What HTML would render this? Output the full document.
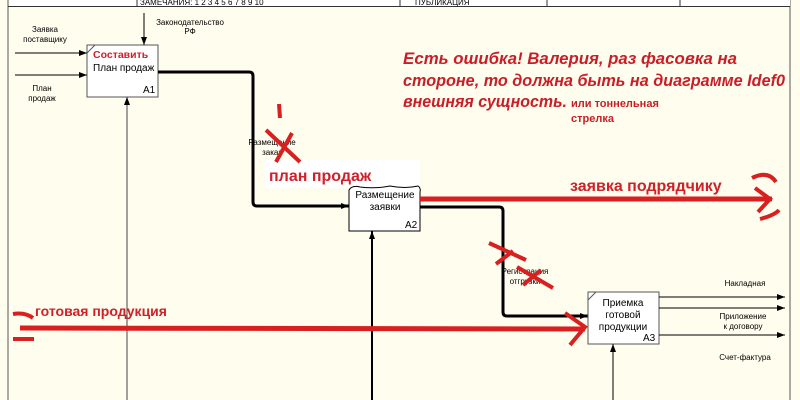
<!DOCTYPE html>
<html><head><meta charset="utf-8"><style>
html,body{margin:0;padding:0;width:800px;height:400px;overflow:hidden;background:#fffdee}
svg{display:block}
text{font-family:"Liberation Sans","DejaVu Sans",sans-serif}
</style></head><body>
<svg width="800" height="400" viewBox="0 0 800 400" xmlns="http://www.w3.org/2000/svg">
<defs>
<marker id="ah" markerWidth="8" markerHeight="6" refX="8" refY="3" orient="auto" markerUnits="userSpaceOnUse"><path d="M0,0 L8,3 L0,6 Z" fill="#000"/></marker>
</defs>
<rect width="800" height="400" fill="#fffdee"/>
<line x1="8" y1="0" x2="8" y2="400" stroke="#555" stroke-width="1"/>
<line x1="790" y1="0" x2="790" y2="400" stroke="#555" stroke-width="1"/>
<line x1="8" y1="6.5" x2="790" y2="6.5" stroke="#333" stroke-width="1"/>
<rect x="9" y="0" width="781" height="6" fill="#fff"/>
<line x1="137" y1="0" x2="137" y2="6" stroke="#333"/>
<line x1="547" y1="0" x2="547" y2="6" stroke="#333"/>
<line x1="680" y1="0" x2="680" y2="6" stroke="#333"/>
<line x1="400" y1="0" x2="400" y2="6" stroke="#333"/>
<text x="140" y="5" font-size="8">ЗАМЕЧАНИЯ:  1 2 3 4 5 6 7 8 9 10</text>
<text x="415" y="5" font-size="8">ПУБЛИКАЦИЯ</text>

<rect x="87" y="45" width="71" height="52" fill="#fff" stroke="#555"/>
<line x1="87" y1="53" x2="95" y2="45" stroke="#555"/>
<text x="93" y="58" font-size="10.5" font-weight="bold" fill="#d0202a">Составить</text>
<text x="93" y="71" font-size="10">План продаж</text>
<text x="143" y="93" font-size="10">A1</text>
<line x1="15" y1="53" x2="87" y2="53" stroke="#000" marker-end="url(#ah)"/>
<line x1="15" y1="75" x2="87" y2="75" stroke="#000" marker-end="url(#ah)"/>
<text x="45" y="32" font-size="8" text-anchor="middle">Заявка</text>
<text x="45" y="42" font-size="8" text-anchor="middle">поставщику</text>
<text x="42" y="91" font-size="8" text-anchor="middle">План</text>
<text x="42" y="101" font-size="8" text-anchor="middle">продаж</text>
<line x1="144" y1="13" x2="144" y2="45" stroke="#000" marker-end="url(#ah)"/>
<text x="190" y="25" font-size="8" text-anchor="middle">Законодательство</text>
<text x="190" y="34" font-size="8" text-anchor="middle">РФ</text>
<line x1="127" y1="400" x2="127" y2="97" stroke="#444" marker-end="url(#ah)"/>

<path d="M158,72 H249 Q253,72 253,76 V202 Q253,206 257,206 H349" fill="none" stroke="#000" stroke-width="3"/>
<path d="M341,203 L349,206 L341,209 Z"/>
<text x="272" y="145" font-size="8" text-anchor="middle">Размещение</text>
<text x="272" y="155" font-size="8" text-anchor="middle">заказ</text>
<rect x="265" y="160" width="155" height="28" fill="#fff"/>
<text x="269" y="181" font-size="16" font-weight="bold" fill="#d0202a">план продаж</text>
<path d="M266,130 L300,162 M292,133 L276,162" stroke="#d82020" stroke-width="4"/>
<path d="M279,104 L280,118" stroke="#d82020" stroke-width="4"/>

<path d="M349,190 Q352,185 360,187 Q375,189 390,186 Q405,189 418,186 Q421,188 420,192 V231 H349 Z" fill="#fff" stroke="#000"/>
<text x="385" y="198" font-size="10" text-anchor="middle">Размещение</text>
<text x="385" y="210" font-size="10" text-anchor="middle">заявки</text>
<text x="405" y="228" font-size="10">A2</text>
<line x1="372" y1="400" x2="372" y2="231" stroke="#000" stroke-width="2" marker-end="url(#ah)"/>

<path d="M420,207 H499 Q503,207 503,211 V312 Q503,316 507,316 H588" fill="none" stroke="#000" stroke-width="3"/>
<path d="M580,313 L588,316 L580,319 Z"/>
<text x="525" y="274" font-size="8" text-anchor="middle">Регистрация</text>
<text x="525" y="284" font-size="8" text-anchor="middle">отгрузки</text>
<path d="M489,243 L526,260 M513,251 L496,264 M517,267 L553,288 M541,270 L523,285" stroke="#d82020" stroke-width="4"/>

<line x1="420" y1="199" x2="772" y2="199" stroke="#d82020" stroke-width="5"/>
<path d="M755,188 L770,199 L758,212" fill="none" stroke="#d82020" stroke-width="4"/>
<path d="M752,178 Q768,170 776,182 M760,219 Q775,215 779,210" fill="none" stroke="#d82020" stroke-width="4"/>
<text x="570" y="191" font-size="16" font-weight="bold" fill="#d0202a">заявка подрядчику</text>

<text x="403" y="64" font-size="16.5" font-weight="bold" font-style="italic" fill="#c81e28" textLength="334" lengthAdjust="spacingAndGlyphs">Есть ошибка! Валерия, раз фасовка на</text>
<text x="403" y="86" font-size="16.5" font-weight="bold" font-style="italic" fill="#c81e28" textLength="382" lengthAdjust="spacingAndGlyphs">стороне, то должна быть на диаграмме Idef0</text>
<text x="403" y="107" font-size="16.5" font-weight="bold" font-style="italic" fill="#c81e28" textLength="164" lengthAdjust="spacingAndGlyphs">внешняя сущность.</text>
<text x="571" y="107" font-size="11" font-weight="bold" fill="#c81e28">или тоннельная</text>
<text x="571" y="122" font-size="11" font-weight="bold" fill="#c81e28">стрелка</text>

<rect x="588" y="292" width="71" height="52" fill="#fff" stroke="#555"/>
<line x1="588" y1="300" x2="596" y2="292" stroke="#555"/>
<text x="623" y="306" font-size="10" text-anchor="middle">Приемка</text>
<text x="623" y="318" font-size="10" text-anchor="middle">готовой</text>
<text x="623" y="330" font-size="10" text-anchor="middle">продукции</text>
<text x="643" y="341" font-size="10">A3</text>
<line x1="613" y1="400" x2="613" y2="344" stroke="#000" marker-end="url(#ah)"/>
<line x1="659" y1="297" x2="785" y2="297" stroke="#000" marker-end="url(#ah)"/>
<line x1="659" y1="308" x2="785" y2="308" stroke="#000" marker-end="url(#ah)"/>
<line x1="659" y1="335" x2="785" y2="335" stroke="#000" marker-end="url(#ah)"/>
<text x="745" y="286" font-size="8" text-anchor="middle">Накладная</text>
<text x="743" y="319" font-size="8" text-anchor="middle">Приложение</text>
<text x="743" y="329" font-size="8" text-anchor="middle">к договору</text>
<text x="745" y="360" font-size="8" text-anchor="middle">Счет-фактура</text>

<line x1="20" y1="328" x2="585" y2="329" stroke="#d82020" stroke-width="5"/>
<path d="M565,313 L585,327 L570,345" fill="none" stroke="#d82020" stroke-width="4"/>
<path d="M13,314 Q25,312 33,318 M13,339 L34,339" fill="none" stroke="#d82020" stroke-width="4"/>
<text x="35" y="316" font-size="14" font-weight="bold" fill="#d0202a">готовая продукция</text>
</svg>
</body></html>
